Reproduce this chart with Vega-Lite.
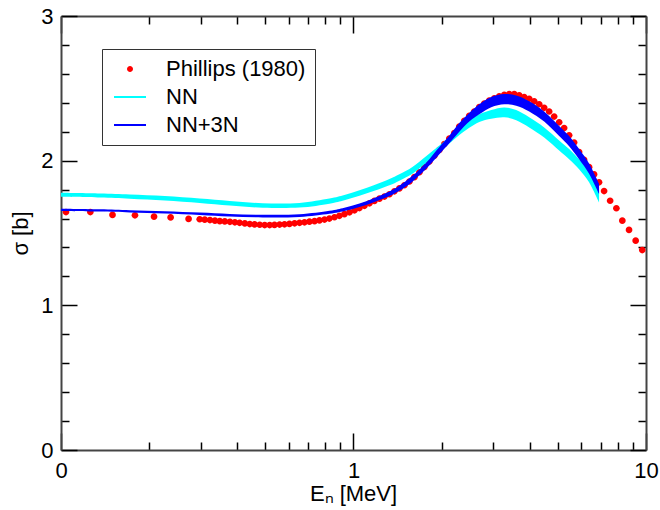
{
  "$schema": "https://vega.github.io/schema/vega-lite/v6.json",
  "width": 585,
  "height": 434,
  "autosize": {"type": "none"},
  "padding": {"left": 61, "top": 16, "right": 14, "bottom": 60},
  "config": {
    "view": {"stroke": null},
    "font": "Liberation Sans",
    "axis": {
      "grid": false,
      "domainColor": "#444",
      "domainWidth": 2,
      "tickColor": "black",
      "tickWidth": 1.5,
      "labelFont": "Liberation Sans",
      "labelFontSize": 22,
      "labelColor": "black",
      "titleFont": "Liberation Sans",
      "titleFontSize": 22,
      "titleFontWeight": "normal",
      "titleColor": "black",
      "labelOverlap": false,
      "labelFlush": false
    }
  },
  "datasets": {
    "phillips": [
      {"E":0.104,"s":1.645,"series":"Phillips (1980)"},
      {"E":0.126,"s":1.645,"series":"Phillips (1980)"},
      {"E":0.150,"s":1.625,"series":"Phillips (1980)"},
      {"E":0.179,"s":1.622,"series":"Phillips (1980)"},
      {"E":0.208,"s":1.613,"series":"Phillips (1980)"},
      {"E":0.237,"s":1.608,"series":"Phillips (1980)"},
      {"E":0.273,"s":1.597,"series":"Phillips (1980)"},
      {"E":0.298,"s":1.595,"series":"Phillips (1980)"},
      {"E":0.310,"s":1.592,"series":"Phillips (1980)"},
      {"E":0.323,"s":1.589,"series":"Phillips (1980)"},
      {"E":0.336,"s":1.585,"series":"Phillips (1980)"},
      {"E":0.349,"s":1.582,"series":"Phillips (1980)"},
      {"E":0.363,"s":1.580,"series":"Phillips (1980)"},
      {"E":0.378,"s":1.577,"series":"Phillips (1980)"},
      {"E":0.393,"s":1.574,"series":"Phillips (1980)"},
      {"E":0.408,"s":1.570,"series":"Phillips (1980)"},
      {"E":0.425,"s":1.566,"series":"Phillips (1980)"},
      {"E":0.442,"s":1.562,"series":"Phillips (1980)"},
      {"E":0.459,"s":1.559,"series":"Phillips (1980)"},
      {"E":0.478,"s":1.557,"series":"Phillips (1980)"},
      {"E":0.497,"s":1.555,"series":"Phillips (1980)"},
      {"E":0.517,"s":1.555,"series":"Phillips (1980)"},
      {"E":0.537,"s":1.556,"series":"Phillips (1980)"},
      {"E":0.559,"s":1.558,"series":"Phillips (1980)"},
      {"E":0.581,"s":1.560,"series":"Phillips (1980)"},
      {"E":0.604,"s":1.563,"series":"Phillips (1980)"},
      {"E":0.629,"s":1.567,"series":"Phillips (1980)"},
      {"E":0.654,"s":1.570,"series":"Phillips (1980)"},
      {"E":0.680,"s":1.574,"series":"Phillips (1980)"},
      {"E":0.707,"s":1.578,"series":"Phillips (1980)"},
      {"E":0.736,"s":1.582,"series":"Phillips (1980)"},
      {"E":0.765,"s":1.587,"series":"Phillips (1980)"},
      {"E":0.796,"s":1.593,"series":"Phillips (1980)"},
      {"E":0.827,"s":1.600,"series":"Phillips (1980)"},
      {"E":0.861,"s":1.609,"series":"Phillips (1980)"},
      {"E":0.895,"s":1.619,"series":"Phillips (1980)"},
      {"E":0.931,"s":1.630,"series":"Phillips (1980)"},
      {"E":0.969,"s":1.643,"series":"Phillips (1980)"},
      {"E":1.008,"s":1.657,"series":"Phillips (1980)"},
      {"E":1.048,"s":1.672,"series":"Phillips (1980)"},
      {"E":1.090,"s":1.688,"series":"Phillips (1980)"},
      {"E":1.134,"s":1.705,"series":"Phillips (1980)"},
      {"E":1.179,"s":1.722,"series":"Phillips (1980)"},
      {"E":1.227,"s":1.737,"series":"Phillips (1980)"},
      {"E":1.276,"s":1.752,"series":"Phillips (1980)"},
      {"E":1.327,"s":1.768,"series":"Phillips (1980)"},
      {"E":1.380,"s":1.788,"series":"Phillips (1980)"},
      {"E":1.435,"s":1.808,"series":"Phillips (1980)"},
      {"E":1.493,"s":1.830,"series":"Phillips (1980)"},
      {"E":1.553,"s":1.856,"series":"Phillips (1980)"},
      {"E":1.615,"s":1.886,"series":"Phillips (1980)"},
      {"E":1.680,"s":1.920,"series":"Phillips (1980)"},
      {"E":1.747,"s":1.956,"series":"Phillips (1980)"},
      {"E":1.817,"s":1.994,"series":"Phillips (1980)"},
      {"E":1.890,"s":2.034,"series":"Phillips (1980)"},
      {"E":1.966,"s":2.074,"series":"Phillips (1980)"},
      {"E":2.044,"s":2.115,"series":"Phillips (1980)"},
      {"E":2.126,"s":2.152,"series":"Phillips (1980)"},
      {"E":2.211,"s":2.190,"series":"Phillips (1980)"},
      {"E":2.300,"s":2.235,"series":"Phillips (1980)"},
      {"E":2.392,"s":2.275,"series":"Phillips (1980)"},
      {"E":2.488,"s":2.310,"series":"Phillips (1980)"},
      {"E":2.588,"s":2.340,"series":"Phillips (1980)"},
      {"E":2.692,"s":2.370,"series":"Phillips (1980)"},
      {"E":2.800,"s":2.395,"series":"Phillips (1980)"},
      {"E":2.912,"s":2.415,"series":"Phillips (1980)"},
      {"E":3.029,"s":2.430,"series":"Phillips (1980)"},
      {"E":3.150,"s":2.445,"series":"Phillips (1980)"},
      {"E":3.277,"s":2.455,"series":"Phillips (1980)"},
      {"E":3.408,"s":2.460,"series":"Phillips (1980)"},
      {"E":3.545,"s":2.460,"series":"Phillips (1980)"},
      {"E":3.687,"s":2.452,"series":"Phillips (1980)"},
      {"E":3.834,"s":2.440,"series":"Phillips (1980)"},
      {"E":3.988,"s":2.428,"series":"Phillips (1980)"},
      {"E":4.147,"s":2.410,"series":"Phillips (1980)"},
      {"E":4.314,"s":2.390,"series":"Phillips (1980)"},
      {"E":4.487,"s":2.365,"series":"Phillips (1980)"},
      {"E":4.666,"s":2.340,"series":"Phillips (1980)"},
      {"E":4.853,"s":2.305,"series":"Phillips (1980)"},
      {"E":5.048,"s":2.265,"series":"Phillips (1980)"},
      {"E":5.250,"s":2.225,"series":"Phillips (1980)"},
      {"E":5.460,"s":2.175,"series":"Phillips (1980)"},
      {"E":5.679,"s":2.125,"series":"Phillips (1980)"},
      {"E":5.906,"s":2.060,"series":"Phillips (1980)"},
      {"E":6.143,"s":2.005,"series":"Phillips (1980)"},
      {"E":6.389,"s":1.955,"series":"Phillips (1980)"},
      {"E":6.644,"s":1.905,"series":"Phillips (1980)"},
      {"E":6.910,"s":1.850,"series":"Phillips (1980)"},
      {"E":7.19,"s":1.790,"series":"Phillips (1980)"},
      {"E":7.54,"s":1.723,"series":"Phillips (1980)"},
      {"E":7.92,"s":1.671,"series":"Phillips (1980)"},
      {"E":8.30,"s":1.585,"series":"Phillips (1980)"},
      {"E":8.75,"s":1.521,"series":"Phillips (1980)"},
      {"E":9.22,"s":1.447,"series":"Phillips (1980)"},
      {"E":9.71,"s":1.382,"series":"Phillips (1980)"}
    ],
    "nn": [
      {"E":0.1,"lo":1.750,"hi":1.778},
      {"E":0.1359,"lo":1.745,"hi":1.773},
      {"E":0.172,"lo":1.737,"hi":1.766},
      {"E":0.2264,"lo":1.725,"hi":1.755},
      {"E":0.298,"lo":1.708,"hi":1.738},
      {"E":0.3775,"lo":1.690,"hi":1.722},
      {"E":0.4891,"lo":1.675,"hi":1.706},
      {"E":0.6537,"lo":1.676,"hi":1.708},
      {"E":0.8274,"lo":1.703,"hi":1.738},
      {"E":0.9307,"lo":1.726,"hi":1.762},
      {"E":1.0483,"lo":1.757,"hi":1.795},
      {"E":1.179,"lo":1.792,"hi":1.832},
      {"E":1.327,"lo":1.830,"hi":1.873},
      {"E":1.435,"lo":1.862,"hi":1.906},
      {"E":1.590,"lo":1.910,"hi":1.956},
      {"E":1.775,"lo":1.985,"hi":2.033},
      {"E":1.966,"lo":2.058,"hi":2.105},
      {"E":2.126,"lo":2.118,"hi":2.166},
      {"E":2.300,"lo":2.178,"hi":2.226},
      {"E":2.488,"lo":2.228,"hi":2.278},
      {"E":2.692,"lo":2.268,"hi":2.320},
      {"E":2.958,"lo":2.290,"hi":2.350},
      {"E":3.277,"lo":2.300,"hi":2.368},
      {"E":3.600,"lo":2.280,"hi":2.350},
      {"E":3.988,"lo":2.230,"hi":2.300},
      {"E":4.487,"lo":2.160,"hi":2.230},
      {"E":5.048,"lo":2.070,"hi":2.140},
      {"E":5.460,"lo":2.010,"hi":2.080},
      {"E":5.906,"lo":1.940,"hi":2.010},
      {"E":6.389,"lo":1.850,"hi":1.930},
      {"E":6.910,"lo":1.710,"hi":1.800}
    ],
    "nn3n": [
      {"E":0.1,"lo":1.652,"hi":1.668},
      {"E":0.1359,"lo":1.648,"hi":1.664},
      {"E":0.172,"lo":1.642,"hi":1.658},
      {"E":0.2264,"lo":1.634,"hi":1.651},
      {"E":0.298,"lo":1.624,"hi":1.641},
      {"E":0.3775,"lo":1.614,"hi":1.632},
      {"E":0.4891,"lo":1.608,"hi":1.626},
      {"E":0.6537,"lo":1.611,"hi":1.629},
      {"E":0.8274,"lo":1.633,"hi":1.653},
      {"E":0.9307,"lo":1.652,"hi":1.674},
      {"E":1.0483,"lo":1.680,"hi":1.704},
      {"E":1.179,"lo":1.715,"hi":1.742},
      {"E":1.327,"lo":1.756,"hi":1.787},
      {"E":1.435,"lo":1.792,"hi":1.826},
      {"E":1.590,"lo":1.855,"hi":1.895},
      {"E":1.775,"lo":1.945,"hi":1.988},
      {"E":1.966,"lo":2.045,"hi":2.095},
      {"E":2.126,"lo":2.120,"hi":2.172},
      {"E":2.300,"lo":2.200,"hi":2.260},
      {"E":2.488,"lo":2.270,"hi":2.330},
      {"E":2.692,"lo":2.320,"hi":2.390},
      {"E":2.958,"lo":2.370,"hi":2.440},
      {"E":3.277,"lo":2.390,"hi":2.460},
      {"E":3.600,"lo":2.380,"hi":2.450},
      {"E":3.988,"lo":2.340,"hi":2.410},
      {"E":4.487,"lo":2.270,"hi":2.340},
      {"E":5.048,"lo":2.170,"hi":2.240},
      {"E":5.460,"lo":2.100,"hi":2.170},
      {"E":5.906,"lo":2.010,"hi":2.080},
      {"E":6.389,"lo":1.910,"hi":1.980},
      {"E":6.910,"lo":1.770,"hi":1.840}
    ]
  },
  "resolve": {"axis": {"x": "independent", "y": "independent"}},
  "layer": [
    {
      "data": {"name": "phillips"},
      "mark": {"type": "point", "filled": true, "size": 500, "opacity": 1},
      "encoding": {
        "x": {
          "field": "E", "type": "quantitative",
          "scale": {"type": "log", "domain": [0.1, 10], "nice": false},
          "axis": {
            "orient": "bottom",
            "values": [0.1,0.2,0.3,0.4,0.5,0.6,0.7,0.8,0.9,1,2,3,4,5,6,7,8,9,10],
            "tickSize": {"condition": {"test": "datum.value == 0.1 || datum.value == 1 || datum.value == 10", "value": -17}, "value": -8},
            "labelExpr": "datum.value == 0.1 ? '0' : datum.value == 1 ? '1' : datum.value == 10 ? '10' : ''",
            "labelPadding": 27,
            "title": "Eₙ [MeV]",
            "titleX": 292,
            "titleY": 50,
            "titleBaseline": "alphabetic",
            "titleAlign": "center"
          }
        },
        "y": {
          "field": "s", "type": "quantitative",
          "scale": {"domain": [0, 3], "nice": false},
          "axis": {
            "orient": "left",
            "values": [0,0.2,0.4,0.6,0.8,1,1.2,1.4,1.6,1.8,2,2.2,2.4,2.6,2.8,3],
            "tickSize": {"condition": {"test": "datum.value % 1 == 0", "value": -16}, "value": -8},
            "labelExpr": "datum.value % 1 == 0 ? format(datum.value, 'd') : ''",
            "labelPadding": 24,
            "title": "σ [b]",
            "titleX": -41,
            "titleY": 217,
            "titleAngle": -90,
            "titleBaseline": "middle",
            "titleAlign": "center"
          }
        },
        "color": {
          "field": "series", "type": "nominal",
          "scale": {"domain": ["Phillips (1980)", "NN", "NN+3N"], "range": ["#ff0000", "#00ffff", "#0000ff"]},
          "legend": {
            "orient": "none", "legendX": 41, "legendY": 33, "title": null,
            "symbolSize": 400, "labelFontSize": 22, "labelFont": "Liberation Sans", "labelColor": "black",
            "padding": 9, "rowPadding": 6, "symbolOffset": 8, "labelOffset": 25, "labelLimit": 400,
            "strokeColor": "#333", "fillColor": "white",
            "encode": {"legend": {"update": {"strokeWidth": {"value": 1.5}}}}
          }
        },
        "shape": {
          "field": "series", "type": "nominal",
          "scale": {"domain": ["Phillips (1980)", "NN", "NN+3N"], "range": ["M-0.3,0A0.3,0.3,0,1,0,0.3,0A0.3,0.3,0,1,0,-0.3,0Z", "M-1.6,-0.1L1.6,-0.1L1.6,0.1L-1.6,0.1Z", "M-1.6,-0.1L1.6,-0.1L1.6,0.1L-1.6,0.1Z"]},
          "legend": {
            "orient": "none", "legendX": 41, "legendY": 33, "title": null,
            "symbolSize": 400, "labelFontSize": 22, "labelFont": "Liberation Sans", "labelColor": "black",
            "padding": 9, "rowPadding": 6, "symbolOffset": 8, "labelOffset": 25, "labelLimit": 400,
            "strokeColor": "#333", "fillColor": "white",
            "encode": {"legend": {"update": {"strokeWidth": {"value": 1.5}}}}
          }
        }
      }
    },
    {
      "data": {"name": "nn"},
      "mark": {"type": "area", "color": "#00ffff", "interpolate": "cardinal", "opacity": 1},
      "encoding": {
        "x": {"field": "E", "type": "quantitative", "axis": null},
        "y": {"field": "lo", "type": "quantitative", "axis": null},
        "y2": {"field": "hi"}
      }
    },
    {
      "data": {"name": "nn3n"},
      "mark": {"type": "area", "color": "#0000ff", "interpolate": "cardinal", "opacity": 1},
      "encoding": {
        "x": {
          "field": "E", "type": "quantitative",
          "axis": {
            "orient": "top",
            "values": [0.1,0.2,0.3,0.4,0.5,0.6,0.7,0.8,0.9,1,2,3,4,5,6,7,8,9,10],
            "tickSize": {"condition": {"test": "datum.value == 0.1 || datum.value == 1 || datum.value == 10", "value": -17}, "value": -8},
            "labels": false,
            "title": null
          }
        },
        "y": {
          "field": "lo", "type": "quantitative",
          "axis": {
            "orient": "right",
            "values": [0,0.2,0.4,0.6,0.8,1,1.2,1.4,1.6,1.8,2,2.2,2.4,2.6,2.8,3],
            "tickSize": {"condition": {"test": "datum.value % 1 == 0", "value": -16}, "value": -8},
            "labels": false,
            "title": null
          }
        },
        "y2": {"field": "hi"}
      }
    }
  ]
}
